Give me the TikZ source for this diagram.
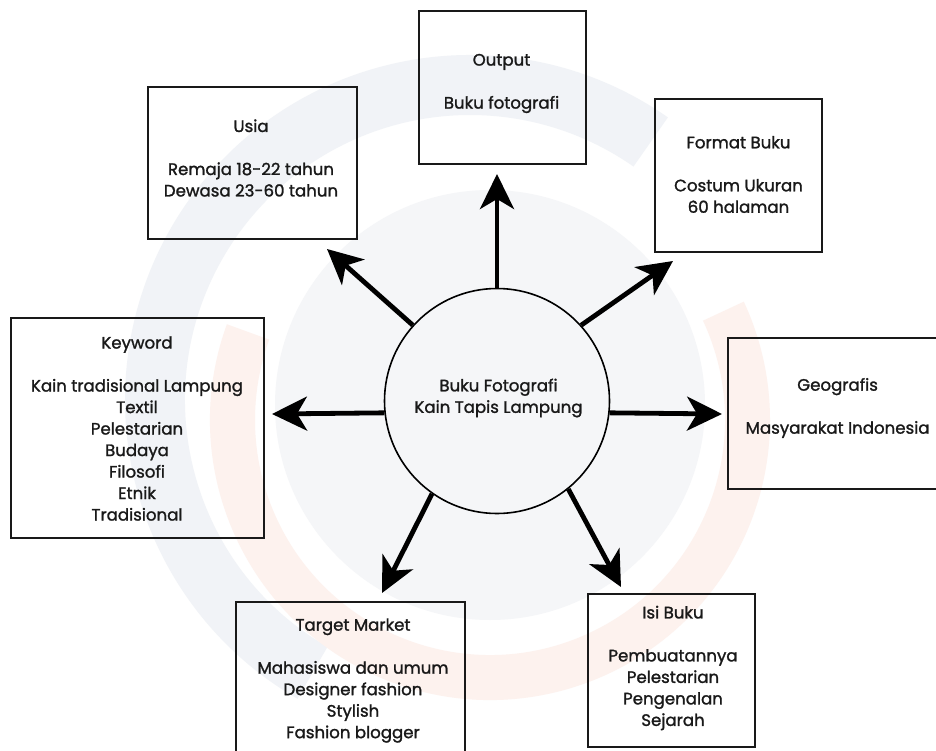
\documentclass[tikz,border=0pt]{standalone}
\usepackage{fontspec}
\setmainfont{Poppins}[UprightFeatures={FakeBold=1.4}]
\usetikzlibrary{arrows.meta}
\definecolor{wmblue}{HTML}{F1F3F7}
\definecolor{wmgray}{HTML}{F5F6F8}
\definecolor{wmorange}{HTML}{FDF2EE}
\begin{document}
\begin{tikzpicture}[x=1pt,y=1pt,
  box/.style={draw=black!90, line width=1.8pt, minimum width=#1, inner sep=0pt},
  txt/.style={align=center, inner sep=0pt, font=\fontsize{16.6}{21.5}\selectfont, text=black!90},
  hub/.style={circle, draw=black, line width=1.6pt, minimum size=225pt, inner sep=0pt},
  arr/.style={line width=4.8pt, -{Stealth[length=35pt,width=34pt,inset=10pt]}}
]
\clip (0,0) rectangle (936,-751);
\fill[white] (0,0) rectangle (936,-751);

% faint background watermark
\fill[wmgray] (490,-405) circle[radius=215];
\fill[wmblue] (470,-400) ++(55:345) arc[start angle=55,end angle=240,radius=345]
   -- ++(240:-60) arc[start angle=240,end angle=55,radius=285] -- cycle;
\fill[wmorange] (490,-420) ++(160:280) arc[start angle=160,end angle=385,radius=280]
   -- ++(25:-45) arc[start angle=385,end angle=160,radius=235] -- cycle;

% boxes
\node[box=167pt, minimum height=153pt] (out) at (502.5,-87.5) {};
\node[box=209pt, minimum height=152pt] (usia) at (252.5,-163) {};
\node[box=167pt, minimum height=153pt] (fmt) at (738.5,-175.5) {};
\node[box=253pt, minimum height=220pt] (key) at (137.5,-428) {};
\node[box=219pt, minimum height=151pt] (geo) at (837.5,-413.5) {};
\node[box=229pt, minimum height=156pt] (tm) at (350.5,-680) {};
\node[box=167pt, minimum height=153pt] (isi) at (671.5,-670.5) {};
\node[hub] (c) at (497,-401) {};

% texts
\node[txt] (outT) at (501.5,-83.5) {Output\\[21.5pt]Buku fotografi};
\node[txt] (usiaT) at (251,-158) {Usia\\[21.5pt]Remaja 18-22 tahun\\Dewasa 23-60 tahun};
\node[txt] (fmtT) at (738.5,-174.5) {Format Buku\\[21.5pt]Costum Ukuran\\60 halaman};
\node[txt] (keyT) at (137,-428.5) {Keyword\\[21.5pt]Kain tradisional Lampung\\Textil\\Pelestarian\\Budaya\\Filosofi\\Etnik\\Tradisional};
\node[txt] (geoT) at (837.6,-408) {Geografis\\[21.5pt]Masyarakat Indonesia};
\node[txt] (tmT) at (353,-680.5) {Target Market\\[21.5pt]Mahasiswa dan umum\\Designer fashion\\Stylish\\Fashion blogger};
\node[txt] (isiT) at (673,-668) {Isi Buku\\[21.5pt]Pembuatannya\\Pelestarian\\Pengenalan\\Sejarah};
\node[txt] (cT) at (498.5,-398) {Buku Fotografi\\Kain Tapis Lampung};

% arrow tips
\coordinate (tOut) at (497,-174);
\coordinate (tUsia) at (327,-249);
\coordinate (tFmt) at (673,-261);
\coordinate (tKey) at (272,-414);
\coordinate (tGeo) at (722,-414);
\coordinate (tTm) at (382,-593);
\coordinate (tIsi) at (621,-587);

\draw[arr] (c.90) -- (tOut);
\draw[arr] (c.138.6) -- (tUsia);
\draw[arr] (c.42) -- (tFmt);
\draw[arr] (c.186.6) -- (tKey);
\draw[arr] (c.-6.6) -- (tGeo);
\draw[arr] (c.-125.7) -- (tTm);
\draw[arr] (c.-51.9) -- (tIsi);
\end{tikzpicture}
\end{document}
